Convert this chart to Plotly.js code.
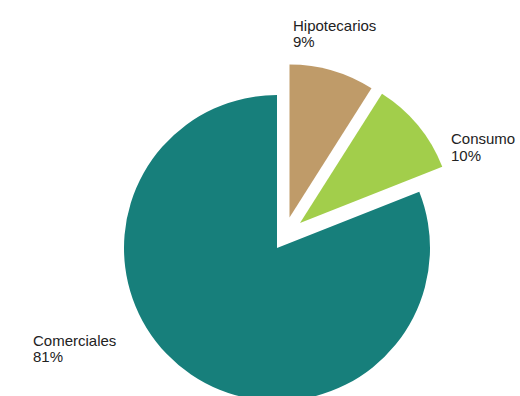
<!DOCTYPE html>
<html>
<head>
<meta charset="utf-8">
<script src="https://cdn.plot.ly/plotly-3.0.1.min.js"></script>
<style>
html,body{margin:0;padding:0;overflow:hidden;background:#fff;}
#chart{width:520px;height:440px;}
</style>
</head>
<body>
<div id="chart"></div>
<script>
var labels = ["Hipotecarios", "Consumo", "Comerciales"];
var values = [9, 10, 81];
var colors = ["#bf9b69", "#a2ce4b", "#177f7b"];

// layout constants (pixels): figure size, pie radius, and center of each exploded slice
var W = 520, H = 440, R = 153;
var centers = [[289.5, 217.5], [300, 223], [277, 248]];

// label anchor positions (pixels) for [name line, percent line]
var labelPx = [[291, 15, 31], [449, 128, 145], [31, 330, 346]];

var total = values.reduce(function(a, b){ return a + b; }, 0);
var font = {family: "Liberation Sans, Arial, sans-serif", size: 15, color: "#222"};

var annotations = [];
labels.forEach(function(lab, i){
  var pct = Math.round(values[i] / total * 100) + "%";
  var p = labelPx[i];
  [[lab, p[1]], [pct, p[2]]].forEach(function(t){
    annotations.push({text: t[0], x: p[0] / W, y: (H - t[1]) / H, xref: "paper", yref: "paper",
      xanchor: "left", yanchor: "top", showarrow: false, align: "left", font: font});
  });
});

// one pie trace per slice so every exploded slice sits at its own offset
var data = labels.map(function(lab, i){
  var c = centers[i];
  return {
    type: "pie",
    labels: labels,
    values: values,
    sort: false,
    direction: "clockwise",
    rotation: 0,
    textinfo: "none",
    hoverinfo: "skip",
    showlegend: false,
    domain: {
      x: [(c[0] - R) / W, (c[0] + R) / W],
      y: [(H - c[1] - R) / H, (H - c[1] + R) / H]
    },
    marker: {
      colors: colors.map(function(col, j){ return j === i ? col : "rgba(0,0,0,0)"; }),
      line: {width: 0}
    }
  };
});

var layout = {
  width: W,
  height: H,
  margin: {l: 0, r: 0, t: 0, b: 0},
  showlegend: false,
  paper_bgcolor: "#fff",
  annotations: annotations
};

Plotly.newPlot("chart", data, layout, {staticPlot: true, displayModeBar: false});
</script>
</body>
</html>
